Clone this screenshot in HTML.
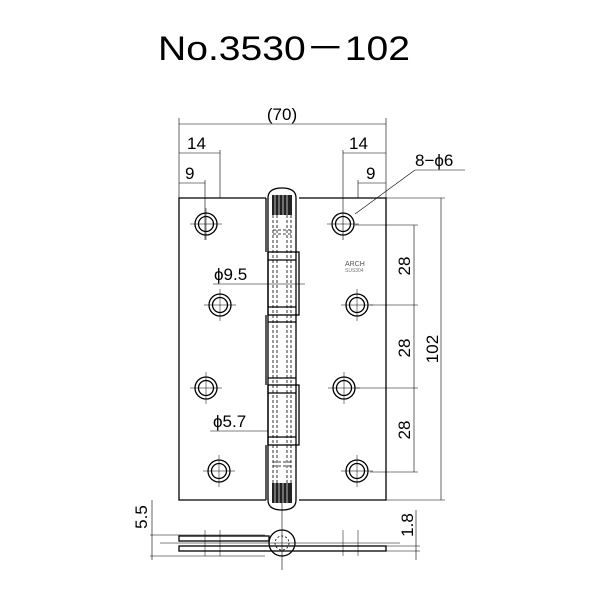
<!DOCTYPE html>
<html><head><style>body{margin:0;background:#fff}svg{display:block}</style></head><body>
<svg width="600" height="600" viewBox="0 0 600 600" xmlns="http://www.w3.org/2000/svg" font-family="Liberation Sans, sans-serif">
<text x="158" y="60" font-size="34" textLength="252" lengthAdjust="spacingAndGlyphs" fill="#000">No.3530－102</text>
<g stroke="#000" fill="none" stroke-width="0.6">
<line x1="179" y1="124" x2="386" y2="124"/>
<line x1="179" y1="118" x2="179" y2="198"/><line x1="386" y1="118" x2="386" y2="198"/>
<line x1="179" y1="153" x2="220" y2="153"/><line x1="220" y1="150" x2="220" y2="198"/>
<line x1="179" y1="183" x2="205" y2="183"/><line x1="205" y1="180" x2="205" y2="240"/>
<line x1="343" y1="153" x2="386" y2="153"/><line x1="343" y1="150" x2="343" y2="240"/>
<line x1="358" y1="183" x2="386" y2="183"/><line x1="358" y1="180" x2="358" y2="198"/>
<line x1="355" y1="214" x2="415" y2="170"/><line x1="415" y1="170" x2="465" y2="170"/>
<line x1="386" y1="198" x2="445" y2="198"/><line x1="386" y1="500" x2="445" y2="500"/>
<line x1="441" y1="198" x2="441" y2="500"/>
<line x1="355" y1="225" x2="418" y2="225"/><line x1="370" y1="305" x2="418" y2="305"/>
<line x1="355" y1="388" x2="418" y2="388"/><line x1="370" y1="472" x2="418" y2="472"/>
<line x1="414" y1="225" x2="414" y2="472"/>
<line x1="213" y1="284" x2="305" y2="284"/>
<line x1="210" y1="431" x2="268" y2="431"/>
<line x1="150" y1="535" x2="265" y2="535"/><line x1="150" y1="556" x2="265" y2="556"/>
<line x1="152" y1="500" x2="152" y2="560"/>
<line x1="300" y1="546" x2="420" y2="546"/><line x1="300" y1="551" x2="420" y2="551"/>
<line x1="416" y1="510" x2="416" y2="560"/>
<line x1="282" y1="500" x2="282" y2="570"/>
</g>
<g stroke="#000" fill="none" stroke-width="1.3">
<path d="M266 198 H179 V500 H266"/>
<path d="M299 198 H386 V500 H299"/>
<path d="M266 198 V252 M266 315 V385 M266 445 V500"/>
<rect x="268" y="252" width="31" height="63"/>
<rect x="268" y="385" width="31" height="60"/>
<path d="M268 198 Q268 188 282 188 Q296 188 296 198 V500 Q296 510 282 510 Q268 510 268 500 Z"/>
<line x1="268" y1="260" x2="296" y2="260"/><line x1="268" y1="307" x2="296" y2="307"/>
<line x1="268" y1="322" x2="296" y2="322"/><line x1="268" y1="378" x2="296" y2="378"/>
<line x1="268" y1="393" x2="296" y2="393"/><line x1="268" y1="437" x2="296" y2="437"/>
</g>
<g stroke="#000" stroke-width="0.8" fill="none" stroke-dasharray="3,2">
<line x1="273" y1="210" x2="273" y2="490"/><line x1="277" y1="210" x2="277" y2="490"/>
<line x1="287" y1="210" x2="287" y2="490"/><line x1="291" y1="210" x2="291" y2="490"/>
<line x1="273" y1="230" x2="291" y2="230"/><line x1="273" y1="234" x2="291" y2="234"/>
<line x1="273" y1="462" x2="291" y2="462"/><line x1="273" y1="466" x2="291" y2="466"/>
</g>
<g fill="#222"><rect x="272" y="195" width="20" height="20"/><rect x="272" y="483" width="20" height="20"/></g>
<g stroke="#fff" stroke-width="0.7">
<line x1="275" y1="195" x2="275" y2="215"/><line x1="279" y1="195" x2="279" y2="215"/><line x1="283" y1="195" x2="283" y2="215"/><line x1="287" y1="195" x2="287" y2="215"/>
<line x1="275" y1="483" x2="275" y2="503"/><line x1="279" y1="483" x2="279" y2="503"/><line x1="283" y1="483" x2="283" y2="503"/><line x1="287" y1="483" x2="287" y2="503"/>
</g>
<g stroke="#000" fill="none" stroke-width="1.3">
<circle cx="206" cy="224" r="11"/><circle cx="206" cy="224" r="7.5"/>
<circle cx="343" cy="224" r="11"/><circle cx="343" cy="224" r="7.5"/>
<circle cx="220" cy="305" r="11"/><circle cx="220" cy="305" r="7.5"/>
<circle cx="357" cy="305" r="11"/><circle cx="357" cy="305" r="7.5"/>
<circle cx="206" cy="388" r="11"/><circle cx="206" cy="388" r="7.5"/>
<circle cx="344" cy="388" r="11"/><circle cx="344" cy="388" r="7.5"/>
<circle cx="219" cy="471" r="11"/><circle cx="219" cy="471" r="7.5"/>
<circle cx="357" cy="471" r="11"/><circle cx="357" cy="471" r="7.5"/>
<rect x="179" y="536" width="90" height="5"/>
<rect x="179" y="546" width="207" height="5"/>
<circle cx="282" cy="543" r="13"/><circle cx="282" cy="543" r="7" stroke-dasharray="2,2" stroke-width="0.8"/>
</g>
<g stroke="#000" stroke-width="0.5">
<line x1="190" y1="224" x2="222" y2="224"/><line x1="206" y1="208" x2="206" y2="240"/>
<line x1="327" y1="224" x2="359" y2="224"/>
<line x1="204" y1="305" x2="236" y2="305"/><line x1="220" y1="289" x2="220" y2="321"/>
<line x1="341" y1="305" x2="373" y2="305"/><line x1="357" y1="289" x2="357" y2="321"/>
<line x1="190" y1="388" x2="222" y2="388"/><line x1="206" y1="372" x2="206" y2="404"/>
<line x1="328" y1="388" x2="360" y2="388"/><line x1="344" y1="372" x2="344" y2="404"/>
<line x1="203" y1="471" x2="235" y2="471"/><line x1="219" y1="455" x2="219" y2="487"/>
<line x1="341" y1="471" x2="373" y2="471"/><line x1="357" y1="455" x2="357" y2="487"/>
<line x1="160" y1="543" x2="400" y2="543"/>
<line x1="205" y1="530" x2="205" y2="556"/><line x1="220" y1="530" x2="220" y2="556"/>
<line x1="343" y1="530" x2="343" y2="556"/><line x1="358" y1="530" x2="358" y2="556"/>
</g>
<g font-size="17" fill="#000">
<text x="282" y="120" text-anchor="middle">(70)</text>
<text x="187" y="149">14</text><text x="185" y="179">9</text>
<text x="349" y="149">14</text><text x="366" y="179">9</text>
<text x="415" y="166">8−ϕ6</text>
<text x="214" y="280">ϕ9.5</text>
<text x="213" y="427">ϕ5.7</text>
<text transform="translate(410,266) rotate(-90)" text-anchor="middle">28</text>
<text transform="translate(410,348) rotate(-90)" text-anchor="middle">28</text>
<text transform="translate(410,430) rotate(-90)" text-anchor="middle">28</text>
<text transform="translate(438,349) rotate(-90)" text-anchor="middle">102</text>
<text transform="translate(147,517) rotate(-90)" text-anchor="middle">5.5</text>
<text transform="translate(413,525) rotate(-90)" text-anchor="middle">1.8</text>
</g>
<text x="345" y="266" font-size="7" fill="#555">ARCH</text>
<text x="345" y="272" font-size="5" fill="#777">SUS304</text>
</svg>
</body></html>
